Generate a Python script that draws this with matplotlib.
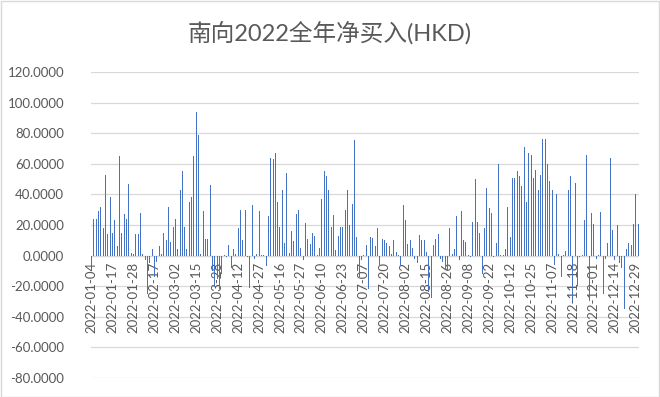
import matplotlib
matplotlib.use("Agg")
import matplotlib.pyplot as plt
import matplotlib.transforms as mtransforms
import pandas as pd

# ---- data -------------------------------------------------------------
title = "南向2022全年净买入(HKD)"
holidays = ["2022-01-03", "2022-01-31", "2022-02-01", "2022-02-02", "2022-02-03",
            "2022-02-04", "2022-04-04", "2022-04-05", "2022-04-15", "2022-04-18",
            "2022-05-02", "2022-05-03", "2022-05-04", "2022-05-09", "2022-06-03",
            "2022-07-01", "2022-09-12", "2022-10-03", "2022-10-04", "2022-10-05",
            "2022-10-06", "2022-10-07", "2022-12-26", "2022-12-27"]
dates = pd.bdate_range("2022-01-03", "2022-12-30", freq="C", holidays=holidays)
categories = [d.strftime("%Y-%m-%d") for d in dates]

net_buy_q1 = [-6, 24, 24, 29, 32, 18, 53, 14, 38,
              15, 23, 6, 65, 15, 27, 24, 47, 2,
              1, 14, 14, 28, 1, -3, -25, -5, 4,
              -14, -4, 6, 1, 15, 10, 32, 9, 19,
              24, 4, 43, 55, 19, 4, 35, 38, 65,
              94, 79, 1, 29, 11, 11, 46, -10, -20,
              -15, -22, -12, 0.5, -1, 7, -8, 4, 1]
net_buy_q2 = [18, 30, 10, 30, -1, -21, 33, -2, 1,
              29, 0.5, 0.5, -7, 26, 64, 63, 67, 35,
              19, 43, 8, 54, 1.5, 16, 9.5, 27, 30,
              5, -3, 21, 11, 7.5, 15, 13, 0.5, 5,
              37, 55, 52, 43, 19, 26.5, 3.5, 13, 19,
              19, 30, 43, 20, 34, 75.5, 12, -14, -3]
net_buy_q3 = [0.5, 7, -22, 12, 11.5, 6.5, 18, -6, 11,
              10.5, 8.5, 6, 1, 10.5, 2.5, 0.5, -6, 33,
              23, 7.5, 10, 5, -2.5, -5, 13.5, 10.5, 10,
              2.5, -24, -28, 7, 11, 14, -2, -4, -7,
              -10, 18, 1, 4, 26, -3, 29, 10, 9,
              0.5, -1, 22, 50, 22, 14.5, -12, 18, 44.5,
              31, 28, -1, 8, 60, 0.5, 0.5, 4, 31.5]
net_buy_q4 = [12, 50.5, 51, 55.5, 52, 45.5, 71, 35, 67,
              66, 51, 56, 43, 53, 76, 76.5, 60, 49,
              43, -6, 40, 1, -14, 0.5, 3, 43, 52,
              -30, 47.5, -20, -1, 0.5, 23.5, 66, -30, 28,
              20.5, -2.5, 0.5, 28.5, -25, -2.5, 8, 63.5, 17,
              -3, 20, -5, -8, -35, 4, 8, 7, 20.5,
              40, 20.5]
values = net_buy_q1 + net_buy_q2 + net_buy_q3 + net_buy_q4

y_ticks = [-80, -60, -40, -20, 0, 20, 40, 60, 80, 100, 120]
label_step = 9

# ---- styling ----------------------------------------------------------
bar_color = "#4472C4"
grid_color = "#D9D9D9"
text_color = "#595959"
num_font = ["Lato", "DejaVu Sans"]
cjk_font = ["Lato", "Noto Sans CJK SC", "DejaVu Sans"]

W, H = 660, 397
fig = plt.figure(figsize=(W / 100, H / 100), dpi=100)
fig.patch.set_facecolor("white")

left_px, right_px, top_px, bottom_px = 90.5, 639.2, 72, 378
ax = fig.add_axes([left_px / W, 1 - bottom_px / H,
                   (right_px - left_px) / W, (bottom_px - top_px) / H])

x = list(range(len(values)))
ax.bar(x, values, width=0.42, color=bar_color, linewidth=0, zorder=3)

ax.set_xlim(-0.5, len(values) - 0.5)
ax.set_ylim(y_ticks[0], y_ticks[-1])
ax.set_yticks(y_ticks)
ax.set_yticklabels([f"{v:.4f}" for v in y_ticks], fontsize=9.5,
                   color=text_color, family=num_font)
ax.tick_params(axis="y", length=0, pad=19)
ax.set_xticks([])
for s in ax.spines.values():
    s.set_visible(False)
ax.grid(axis="y", color=grid_color, linewidth=0.9, zorder=0)
ax.set_axisbelow(True)
ax.axhline(0, color=grid_color, linewidth=0.9, zorder=1)

# category labels just below the zero line
off = mtransforms.offset_copy(ax.transData, fig=fig, x=0, y=-6, units="dots")
for i in range(0, len(categories), label_step):
    ax.text(i, 0, categories[i], transform=off, rotation=90, ha="center",
            va="top", fontsize=9.5, color=text_color, family=num_font, zorder=2)

fig.text(0.5, 1 - 33 / H, title, ha="center", va="center", fontsize=17,
         color=text_color, family=cjk_font)

fig.add_artist(plt.Rectangle((0.001, 0.001), 0.998, 0.997, transform=fig.transFigure,
                             fill=False, edgecolor=grid_color, linewidth=1))

fig.savefig("out.png", dpi=100)
